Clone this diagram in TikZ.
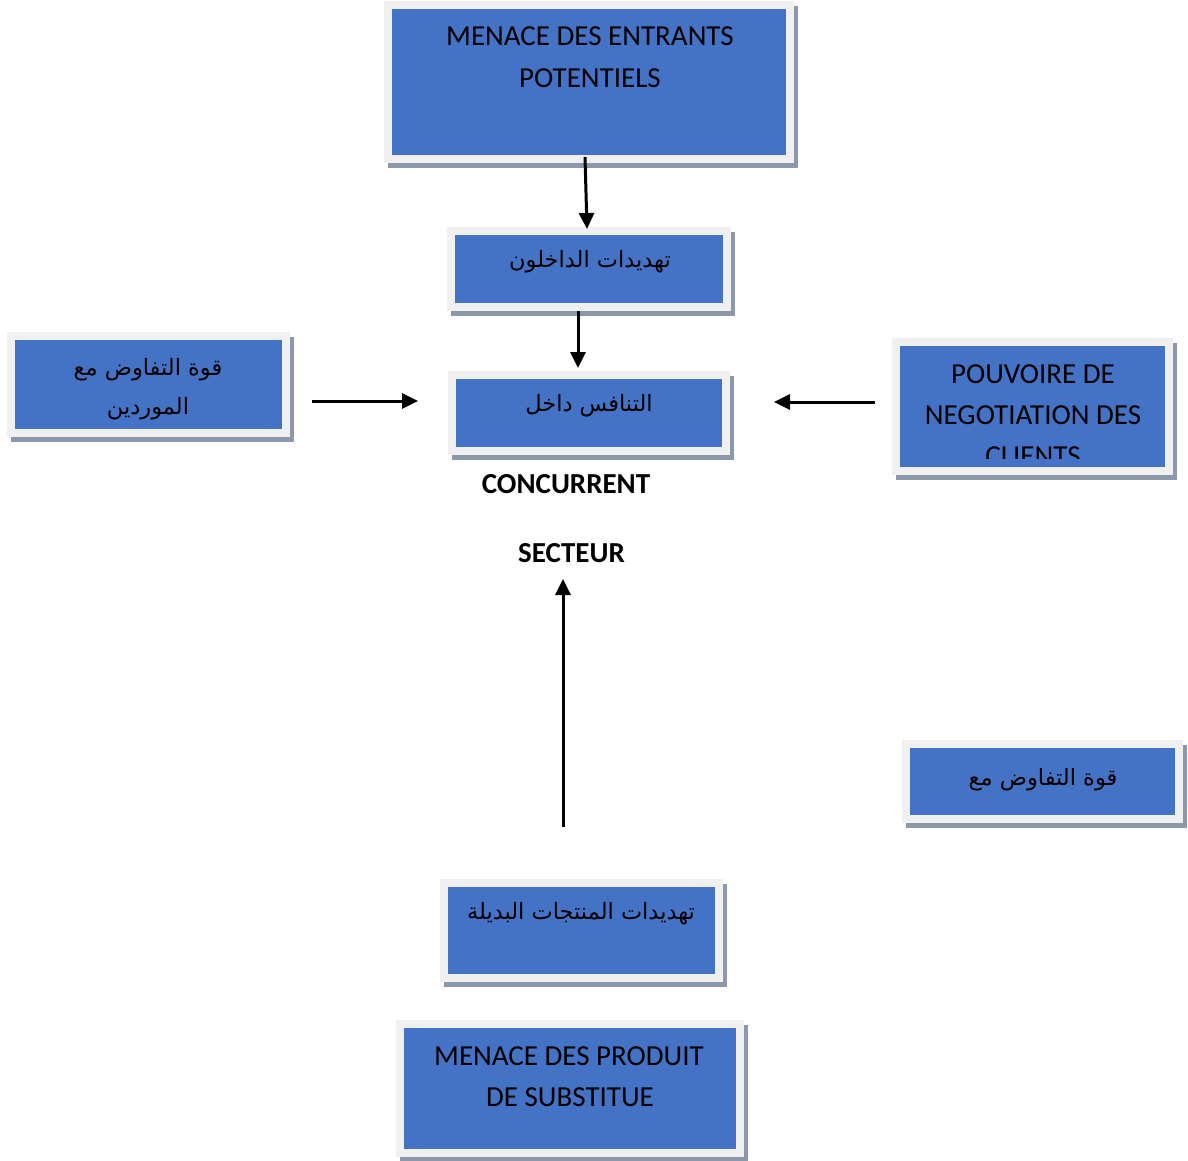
\documentclass[tikz,border=0pt]{standalone}
\usepackage{fontspec}
\setmainfont{Carlito}
\newfontfamily\arfont[Script=Arabic]{DejaVu Sans}
\TeXXeTstate=1
\usetikzlibrary{arrows.meta,shadows}
\definecolor{boxblue}{HTML}{4472C4}
\definecolor{framegray}{HTML}{F0F0F0}
\definecolor{shadowgray}{RGB}{140,152,172}
\tikzset{
  fbox/.style={rectangle, fill=framegray, inner sep=0pt, outer sep=0pt,
    drop shadow={shadow xshift=4pt, shadow yshift=-5pt, fill=shadowgray, opacity=1},
    path picture={\fill[boxblue] ([xshift=8pt,yshift=-8pt]path picture bounding box.north west) rectangle ([xshift=-8pt,yshift=8pt]path picture bounding box.south east);}},
  lat/.style={font=\fontsize{29}{35}\selectfont, anchor=base, inner sep=0pt},
  latb/.style={font=\fontsize{29}{35}\selectfont\bfseries, anchor=base, inner sep=0pt},
  ar/.style={font=\arfont\fontsize{22.5}{26}\selectfont, inner sep=0pt},
  arr/.style={line width=3pt, -{Triangle[length=16pt,width=15pt]}}
}
\begin{document}
\begin{tikzpicture}[x=1pt,y=-1pt]
\useasboundingbox (0,0) rectangle (1188,1160);
% boxes
\node[fbox, minimum width=410pt, minimum height=162pt] (b1) at (589,82) {};
\node[fbox, minimum width=284pt, minimum height=84pt] (b2) at (589,269) {};
\node[fbox, minimum width=283pt, minimum height=105pt] (b3) at (148.5,384.5) {};
\node[fbox, minimum width=281pt, minimum height=137pt] (b4) at (1032.5,406.5) {};
\node[fbox, minimum width=282pt, minimum height=84pt] (b5) at (589,413) {};
\node[fbox, minimum width=281pt, minimum height=83pt] (b6) at (1042.5,781.5) {};
\node[fbox, minimum width=283pt, minimum height=103pt] (b7) at (581.5,930.5) {};
\node[fbox, minimum width=348pt, minimum height=137pt] (b8) at (570,1088.5) {};
% texts
\node[lat] (t1a) at (590,45) {MENACE DES ENTRANTS};
\node[lat] (t1b) at (590,87) {POTENTIELS};
\node[ar] (t2) at (590,262) {\beginR تهديدات الداخلون\endR};
\node[ar] (t3a) at (148,370) {\beginR قوة التفاوض مع\endR};
\node[ar] (t3b) at (148,409) {\beginR الموردين\endR};
\node[lat] (t4a) at (1033,383) {POUVOIRE DE};
\node[lat] (t4b) at (1033,424) {NEGOTIATION DES};
\begin{scope}
\clip (899,346) rectangle (1167,458);
\node[lat] (t4c) at (1033,465) {CLIENTS};
\end{scope}
\node[ar] (t5) at (589,406) {\beginR التنافس داخل\endR};
\node[latb] (t5b) at (566,493) {CONCURRENT};
\node[latb] (t5c) at (571.5,562) {SECTEUR};
\node[ar] (t6) at (1043,780) {\beginR قوة التفاوض مع\endR};
\node[ar] (t7) at (581,914) {\beginR تهديدات المنتجات البديلة\endR};
\node[lat] (t8a) at (569,1065) {MENACE DES PRODUIT};
\node[lat] (t8b) at (570,1106) {DE SUBSTITUE};
% connector end points
\coordinate (p1s) at (585,157);
\coordinate (p1e) at (587,229);
\coordinate (p2s) at (578,311);
\coordinate (p2e) at (578,368);
\coordinate (p3s) at (312,401);
\coordinate (p3e) at (418,401);
\coordinate (p4s) at (875,402);
\coordinate (p4e) at (774,402);
\coordinate (p5s) at (563,827);
\coordinate (p5e) at (563,579);
\draw[arr] (p1s) -- (p1e);
\draw[arr] (p2s) -- (p2e);
\draw[arr] (p3s) -- (p3e);
\draw[arr] (p4s) -- (p4e);
\draw[arr] (p5s) -- (p5e);
\end{tikzpicture}
\end{document}
